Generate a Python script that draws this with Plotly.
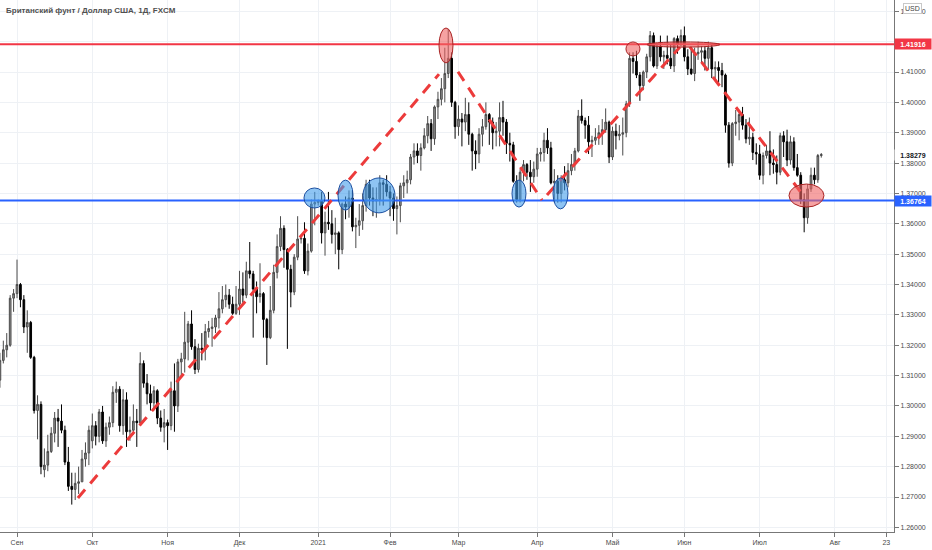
import pandas as pd
import plotly.graph_objects as go

# GBP/USD daily bars, FXCM, 25 Aug 2020 - 27 Jul 2021
dates = pd.bdate_range("2020-08-25", "2021-07-27")

op = [1.3085, 1.3150, 1.3185, 1.3200, 1.3355,
      1.3370, 1.3400, 1.3350, 1.3260,
      1.3275, 1.3160, 1.2985, 1.3005, 1.2790,
      1.2805, 1.2850, 1.2910, 1.2960, 1.2950,
      1.2920, 1.2815, 1.2735, 1.2725, 1.2745,
      1.2750, 1.2825, 1.2845, 1.2885, 1.2935,
      1.2900, 1.2980, 1.2885, 1.2930, 1.2945,
      1.3045, 1.3055, 1.2935, 1.3020, 1.2915,
      1.2920, 1.2950, 1.2945, 1.3140, 1.3075,
      1.3040, 1.3010, 1.3050, 1.2960, 1.2930,
      1.2945, 1.2935, 1.3050, 1.3000, 1.3145,
      1.3155, 1.3210, 1.3270, 1.3195, 1.3120,
      1.3190, 1.3185, 1.3245, 1.3255, 1.3260,
      1.3290, 1.3320, 1.3350, 1.3365, 1.3335,
      1.3305, 1.3335, 1.3385, 1.3365, 1.3445,
      1.3435, 1.3385, 1.3360, 1.3370, 1.3285,
      1.3225, 1.3315, 1.3440, 1.3525, 1.3585,
      1.3515, 1.3450, 1.3375, 1.3490, 1.3550,
      1.3552, 1.3445, 1.3510, 1.3665, 1.3670,
      1.3675, 1.3570, 1.3605, 1.3600, 1.3565,
      1.3570, 1.3515, 1.3665, 1.3655, 1.3685,
      1.3590, 1.3595, 1.3610, 1.3660, 1.3730,
      1.3685, 1.3675, 1.3680, 1.3735, 1.3730,
      1.3705, 1.3685, 1.3650, 1.3660, 1.3725,
      1.3735, 1.3745, 1.3820, 1.3840, 1.3825,
      1.3850, 1.3890, 1.3930, 1.3880, 1.3985,
      1.4010, 1.4045, 1.4095, 1.4145, 1.4000,
      1.3920, 1.3945, 1.3935, 1.3960, 1.3895,
      1.3840, 1.3830, 1.3895, 1.3920, 1.3960,
      1.3935, 1.3900, 1.3905, 1.3950, 1.3935,
      1.3865, 1.3860, 1.3740, 1.3680, 1.3770,
      1.3795, 1.3770, 1.3755, 1.3780, 1.3830,
      1.3835, 1.3875, 1.3850, 1.3735, 1.3740,
      1.3700, 1.3745, 1.3735, 1.3775, 1.3795,
      1.3840, 1.3955, 1.3940, 1.3925, 1.3870,
      1.3875, 1.3885, 1.3900, 1.3910, 1.3935,
      1.3820, 1.3905, 1.3890, 1.3895, 1.3900,
      1.3995, 1.4145, 1.4135, 1.4090, 1.4055,
      1.4100, 1.4150, 1.4220, 1.4120, 1.4185,
      1.4150, 1.4155, 1.4145, 1.4120, 1.4210,
      1.4190, 1.4220, 1.4150, 1.4110, 1.4095,
      1.4160, 1.4165, 1.4170, 1.4145, 1.4180,
      1.4110, 1.4115, 1.4105, 1.4090, 1.3925,
      1.3800, 1.3930, 1.3935, 1.3960, 1.3925,
      1.3880, 1.3885, 1.3835, 1.3830, 1.3760,
      1.3825, 1.3840, 1.3800, 1.3795, 1.3770,
      1.3890, 1.3870, 1.3810, 1.3870, 1.3785,
      1.3760, 1.3680, 1.3620, 1.3715, 1.3760,
      1.3745, 1.3825]

hi = [1.3175, 1.3215, 1.3240, 1.3365, 1.3385,
      1.3482, 1.3405, 1.3365, 1.3315,
      1.3280, 1.3165, 1.3035, 1.3015, 1.2860,
      1.2905, 1.2930, 1.2980, 1.2990, 1.3005,
      1.2935, 1.2865, 1.2780, 1.2780, 1.2800,
      1.2855, 1.2880, 1.2935, 1.2975, 1.2950,
      1.2990, 1.3000, 1.2945, 1.2965, 1.3065,
      1.3080, 1.3065, 1.3055, 1.3045, 1.2965,
      1.3005, 1.2990, 1.3177, 1.3150, 1.3105,
      1.3070, 1.3065, 1.3055, 1.2985, 1.2990,
      1.2955, 1.3080, 1.3140, 1.3155, 1.3175,
      1.3310, 1.3280, 1.3315, 1.3220, 1.3205,
      1.3240, 1.3270, 1.3280, 1.3290, 1.3300,
      1.3375, 1.3395, 1.3400, 1.3385, 1.3360,
      1.3395, 1.3445, 1.3440, 1.3475, 1.3540,
      1.3445, 1.3410, 1.3470, 1.3375, 1.3290,
      1.3395, 1.3465, 1.3565, 1.3625, 1.3595,
      1.3520, 1.3465, 1.3500, 1.3625, 1.3560,
      1.3605, 1.3535, 1.3680, 1.3705, 1.3680,
      1.3705, 1.3640, 1.3705, 1.3645, 1.3620,
      1.3575, 1.3670, 1.3690, 1.3710, 1.3710,
      1.3620, 1.3665, 1.3700, 1.3745, 1.3745,
      1.3720, 1.3720, 1.3760, 1.3745, 1.3760,
      1.3725, 1.3700, 1.3690, 1.3735, 1.3760,
      1.3775, 1.3830, 1.3865, 1.3865, 1.3865,
      1.3915, 1.3955, 1.3945, 1.3990, 1.4035,
      1.4080, 1.4180, 1.4241, 1.4165, 1.4005,
      1.3990, 1.3965, 1.4015, 1.4000, 1.3900,
      1.3875, 1.3915, 1.3945, 1.4000, 1.3965,
      1.3950, 1.3935, 1.4000, 1.4005, 1.3945,
      1.3900, 1.3870, 1.3760, 1.3780, 1.3810,
      1.3800, 1.3810, 1.3805, 1.3850, 1.3850,
      1.3900, 1.3915, 1.3870, 1.3780, 1.3760,
      1.3760, 1.3790, 1.3800, 1.3830, 1.3850,
      1.3975, 1.4010, 1.3950, 1.3955, 1.3890,
      1.3915, 1.3925, 1.3945, 1.3980, 1.3940,
      1.3920, 1.3930, 1.3925, 1.3950, 1.4005,
      1.4165, 1.4165, 1.4170, 1.4100, 1.4105,
      1.4160, 1.4235, 1.4230, 1.4195, 1.4220,
      1.4170, 1.4220, 1.4190, 1.4215, 1.4220,
      1.4240, 1.4250, 1.4175, 1.4175, 1.4180,
      1.4200, 1.4185, 1.4185, 1.4200, 1.4190,
      1.4135, 1.4135, 1.4130, 1.4095, 1.3935,
      1.3935, 1.3975, 1.3975, 1.3985, 1.3945,
      1.3950, 1.3900, 1.3865, 1.3860, 1.3835,
      1.3860, 1.3905, 1.3845, 1.3825, 1.3900,
      1.3905, 1.3910, 1.3890, 1.3885, 1.3830,
      1.3770, 1.3700, 1.3730, 1.3785, 1.3785,
      1.3830, 1.3833]

lo = [1.3060, 1.3140, 1.3160, 1.3195, 1.3310,
      1.3355, 1.3325, 1.3240, 1.3175,
      1.3155, 1.2975, 1.2890, 1.2775, 1.2765,
      1.2785, 1.2845, 1.2880, 1.2865, 1.2910,
      1.2805, 1.2720, 1.2675, 1.2690, 1.2710,
      1.2750, 1.2800, 1.2805, 1.2860, 1.2870,
      1.2880, 1.2875, 1.2865, 1.2905, 1.2930,
      1.3010, 1.2915, 1.2905, 1.2865, 1.2885,
      1.2905, 1.2865, 1.2935, 1.3060, 1.3005,
      1.2985, 1.2985, 1.2940, 1.2915, 1.2880,
      1.2855, 1.2920, 1.2915, 1.2980, 1.3100,
      1.3110, 1.3150, 1.3185, 1.3105, 1.3110,
      1.3150, 1.3150, 1.3225, 1.3195, 1.3240,
      1.3255, 1.3305, 1.3325, 1.3320, 1.3300,
      1.3300, 1.3300, 1.3340, 1.3355, 1.3420,
      1.3225, 1.3305, 1.3340, 1.3225, 1.3135,
      1.3220, 1.3305, 1.3420, 1.3510, 1.3455,
      1.3188, 1.3325, 1.3365, 1.3480, 1.3535,
      1.3435, 1.3430, 1.3505, 1.3595, 1.3660,
      1.3535, 1.3495, 1.3580, 1.3535, 1.3500,
      1.3450, 1.3500, 1.3615, 1.3620, 1.3575,
      1.3520, 1.3560, 1.3580, 1.3640, 1.3660,
      1.3625, 1.3620, 1.3660, 1.3660, 1.3690,
      1.3625, 1.3610, 1.3565, 1.3605, 1.3685,
      1.3700, 1.3730, 1.3795, 1.3800, 1.3775,
      1.3845, 1.3865, 1.3840, 1.3860, 1.3945,
      1.3990, 1.4000, 1.4080, 1.3985, 1.3880,
      1.3890, 1.3855, 1.3905, 1.3860, 1.3775,
      1.3780, 1.3800, 1.3855, 1.3910, 1.3860,
      1.3845, 1.3855, 1.3855, 1.3890, 1.3830,
      1.3805, 1.3735, 1.3670, 1.3670, 1.3740,
      1.3745, 1.3705, 1.3735, 1.3755, 1.3805,
      1.3805, 1.3830, 1.3730, 1.3670, 1.3670,
      1.3670, 1.3710, 1.3720, 1.3760, 1.3775,
      1.3835, 1.3930, 1.3880, 1.3830, 1.3820,
      1.3860, 1.3860, 1.3860, 1.3900, 1.3800,
      1.3810, 1.3845, 1.3875, 1.3825, 1.3885,
      1.3985, 1.4095, 1.4080, 1.4005, 1.4040,
      1.4080, 1.4135, 1.4115, 1.4110, 1.4135,
      1.4110, 1.4125, 1.4110, 1.4100, 1.4160,
      1.4185, 1.4135, 1.4090, 1.4090, 1.4070,
      1.4140, 1.4130, 1.4105, 1.4110, 1.4080,
      1.4070, 1.4065, 1.4050, 1.3900, 1.3785,
      1.3790, 1.3890, 1.3875, 1.3910, 1.3865,
      1.3860, 1.3810, 1.3795, 1.3745, 1.3730,
      1.3815, 1.3760, 1.3765, 1.3730, 1.3760,
      1.3820, 1.3790, 1.3795, 1.3775, 1.3755,
      1.3665, 1.3572, 1.3600, 1.3705, 1.3730,
      1.3735, 1.3818]

cl = [1.3150, 1.3185, 1.3200, 1.3355, 1.3370,
      1.3400, 1.3350, 1.3260, 1.3275,
      1.3160, 1.2985, 1.3005, 1.2800, 1.2805,
      1.2850, 1.2910, 1.2960, 1.2950, 1.2920,
      1.2815, 1.2735, 1.2725, 1.2745, 1.2750,
      1.2825, 1.2845, 1.2920, 1.2935, 1.2900,
      1.2980, 1.2885, 1.2930, 1.2945, 1.3045,
      1.3055, 1.2935, 1.3020, 1.2915, 1.2920,
      1.2950, 1.2945, 1.3140, 1.3075, 1.3040,
      1.3010, 1.3050, 1.2960, 1.2930, 1.2945,
      1.2935, 1.3050, 1.3000, 1.3145, 1.3155,
      1.3210, 1.3270, 1.3195, 1.3120, 1.3190,
      1.3185, 1.3245, 1.3255, 1.3260, 1.3290,
      1.3320, 1.3350, 1.3365, 1.3335, 1.3305,
      1.3335, 1.3385, 1.3365, 1.3445, 1.3435,
      1.3385, 1.3360, 1.3370, 1.3285, 1.3225,
      1.3315, 1.3440, 1.3525, 1.3585, 1.3515,
      1.3450, 1.3375, 1.3490, 1.3550, 1.3552,
      1.3445, 1.3510, 1.3665, 1.3670, 1.3675,
      1.3570, 1.3605, 1.3600, 1.3565, 1.3570,
      1.3515, 1.3665, 1.3655, 1.3685, 1.3590,
      1.3595, 1.3610, 1.3660, 1.3730, 1.3685,
      1.3675, 1.3680, 1.3735, 1.3730, 1.3705,
      1.3685, 1.3650, 1.3660, 1.3725, 1.3735,
      1.3745, 1.3820, 1.3840, 1.3825, 1.3850,
      1.3890, 1.3930, 1.3880, 1.3985, 1.4010,
      1.4045, 1.4095, 1.4145, 1.4000, 1.3920,
      1.3945, 1.3935, 1.3960, 1.3895, 1.3840,
      1.3830, 1.3895, 1.3920, 1.3960, 1.3935,
      1.3900, 1.3905, 1.3950, 1.3935, 1.3865,
      1.3860, 1.3740, 1.3680, 1.3770, 1.3795,
      1.3770, 1.3755, 1.3780, 1.3830, 1.3835,
      1.3875, 1.3850, 1.3735, 1.3740, 1.3700,
      1.3745, 1.3735, 1.3775, 1.3795, 1.3840,
      1.3955, 1.3940, 1.3925, 1.3870, 1.3875,
      1.3885, 1.3900, 1.3910, 1.3935, 1.3820,
      1.3905, 1.3890, 1.3895, 1.3900, 1.3995,
      1.4145, 1.4135, 1.4090, 1.4055, 1.4100,
      1.4150, 1.4220, 1.4120, 1.4185, 1.4150,
      1.4155, 1.4145, 1.4120, 1.4210, 1.4190,
      1.4220, 1.4150, 1.4110, 1.4095, 1.4160,
      1.4165, 1.4170, 1.4145, 1.4180, 1.4110,
      1.4115, 1.4105, 1.4090, 1.3925, 1.3800,
      1.3930, 1.3935, 1.3960, 1.3925, 1.3880,
      1.3885, 1.3835, 1.3830, 1.3760, 1.3825,
      1.3840, 1.3800, 1.3795, 1.3770, 1.3890,
      1.3870, 1.3810, 1.3870, 1.3785, 1.3760,
      1.3680, 1.3620, 1.3715, 1.3760, 1.3745,
      1.3825, 1.38279]

resistance = 1.41916
support = 1.36764
last_price = cl[-1]

month_ru = ["Янв", "Фев", "Мар", "Апр", "Май", "Июн",
            "Июл", "Авг", "Сен", "Окт", "Ноя", "Дек"]

# bar positions (trading days only, like TradingView)
x = list(range(len(dates)))

tickvals, ticktext = [], []
for i, d in enumerate(dates):
    if i > 0 and d.month != dates[i - 1].month:
        tickvals.append(i)
        ticktext.append(str(d.year) if d.month == 1 else month_ru[d.month - 1])
# ticks in the empty space to the right of the last bar
future = pd.bdate_range(dates[0], "2021-08-23")
tickvals += [list(future).index(pd.Timestamp("2021-08-02")), len(future) - 1]
ticktext += ["Авг", "23"]

fig = go.Figure()
fig.add_trace(go.Candlestick(
    x=x, open=op, high=hi, low=lo, close=cl,
    increasing=dict(line=dict(color="#4a4a4a", width=1), fillcolor="#929292"),
    decreasing=dict(line=dict(color="#000000", width=1), fillcolor="#000000"),
    whiskerwidth=0, showlegend=False,
    text=[d.strftime("%d.%m.%Y") for d in dates], hoverinfo="text+y",
))

RED = "#f23645"
BLUE = "#2962ff"
DASH_RED = "#ec3b3b"

shapes = [
    dict(type="line", xref="paper", x0=0, x1=1, y0=resistance, y1=resistance,
         line=dict(color=RED, width=2)),
    dict(type="line", xref="paper", x0=0, x1=1, y0=support, y1=support,
         line=dict(color=BLUE, width=2)),
]

# hand drawn trend lines (bar index, price)
trend_lines = [
    ((22.8, 1.2697), (128.3, 1.4093)),
    ((133.85, 1.4101), (158.4, 1.3678)),
    ((159.86, 1.3695), (198.7, 1.4182)),
    ((201.6, 1.4183), (234.65, 1.3695)),
]
for (x0, y0), (x1, y1) in trend_lines:
    shapes.append(dict(type="line", x0=x0, y0=y0, x1=x1, y1=y1,
                       line=dict(color=DASH_RED, width=3, dash="11px,8px")))

blue_marks = [
    (88.85, 94.99, 1.3652, 1.3718),
    (98.79, 103.17, 1.3645, 1.3744),
    (106.09, 115.44, 1.3636, 1.3751),
    (149.63, 153.72, 1.3655, 1.3744),
    (161.61, 165.99, 1.3649, 1.3751),
]
red_marks = [
    (128.30, 132.39, 1.4130, 1.4245),
    (182.93, 187.03, 1.4153, 1.4199),
    (189.07, 210.40, 1.4182, 1.4199),
    (230.56, 240.79, 1.3655, 1.3731),
]
for x0, x1, y0, y1 in blue_marks:
    shapes.append(dict(type="circle", x0=x0, x1=x1, y0=y0, y1=y1,
                       fillcolor="rgba(66,156,235,0.6)",
                       line=dict(color="#1c4fa0", width=1)))
for x0, x1, y0, y1 in red_marks:
    shapes.append(dict(type="circle", x0=x0, x1=x1, y0=y0, y1=y1,
                       fillcolor="rgba(240,100,100,0.6)",
                       line=dict(color="#a82424", width=1)))

annotations = [
    dict(text="<b>Британский фунт / Доллар США, 1Д, FXCM</b>",
         xref="paper", yref="paper", x=0, y=1, xanchor="left", yanchor="top",
         xshift=4, yshift=-4, showarrow=False,
         font=dict(size=8, color="#505050")),
    dict(text="USD", xref="paper", yref="paper", x=1, y=1,
         xanchor="left", yanchor="top", xshift=9, yshift=-3, showarrow=False,
         font=dict(size=7, color="#444"), bgcolor="white",
         bordercolor="#c8c8c8", borderwidth=1, borderpad=1),
]
for level, bg, fg in [(resistance, RED, "white"), (support, BLUE, "white"),
                      (last_price, "white", "#131722")]:
    annotations.append(dict(
        text=f"<b>{level:.5f}</b>", xref="paper", yref="y", x=1, y=level,
        xanchor="left", yanchor="middle", showarrow=False, width=36, height=10,
        align="center", bgcolor=bg, borderpad=0, font=dict(size=7, color=fg)))

fig.update_layout(
    width=932, height=550,
    margin=dict(l=0, r=38, t=0, b=18),
    paper_bgcolor="white", plot_bgcolor="white",
    font=dict(family="Liberation Sans, Arial, sans-serif", size=7, color="#4a4a4a"),
    shapes=shapes, annotations=annotations,
    showlegend=False,
    xaxis=dict(range=[0.03, 261.25], tickmode="array", tickvals=tickvals,
               ticktext=ticktext, showgrid=True, gridcolor="#eef1f5",
               ticks="outside", ticklen=4, tickcolor="#777",
               showline=True, linecolor="#777", linewidth=1,
               zeroline=False, rangeslider=dict(visible=False),
               tickfont=dict(size=7, color="#4a4a4a")),
    yaxis=dict(side="right", range=[1.25847, 1.43372], tick0=1.26, dtick=0.01,
               tickformat=".5f", showgrid=True, gridcolor="#eef1f5",
               ticks="outside", ticklen=4, tickcolor="#777",
               showline=True, linecolor="#777", linewidth=1, zeroline=False,
               tickfont=dict(size=7, color="#4a4a4a")),
)

# page body has an 8px default margin; drop it so the chart sits at 0,0
fig.write_html("out.html", config={"displayModeBar": False},
               post_script="document.body.style.margin='0';")
